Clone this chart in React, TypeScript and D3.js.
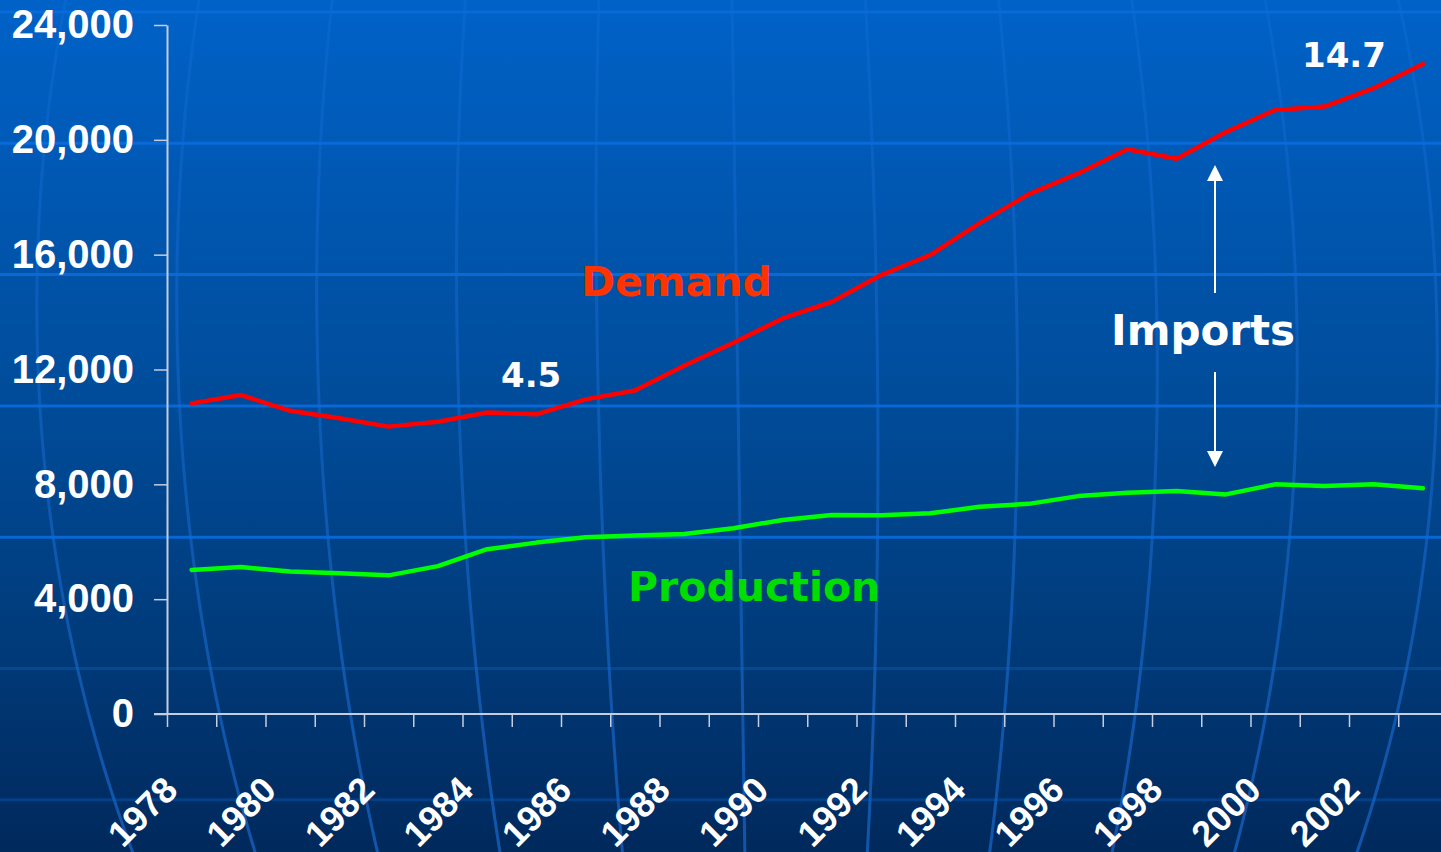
import React, { useEffect, useRef } from "react";
import * as d3 from "d3";

const years = [
	1978, 1979, 1980, 1981, 1982, 1983, 1984, 1985, 1986, 1987, 1988, 1989, 1990,
	1991, 1992, 1993, 1994, 1995, 1996, 1997, 1998, 1999, 2000, 2001, 2002, 2003,
];
const demand = [
	10820, 11110, 10560, 10300, 10010, 10180, 10500, 10440, 10960, 11270, 12130,
	12930, 13780, 14360, 15290, 15990, 17100, 18110, 18830, 19670, 19340, 20270,
	21040, 21160, 21800, 22640,
];
const production = [
	5020, 5120, 4960, 4900, 4830, 5150, 5740, 5970, 6160, 6220, 6270, 6470, 6760,
	6930, 6920, 6990, 7220, 7320, 7590, 7710, 7770, 7650, 8000, 7940, 8000, 7860,
];
const yTicks = [0, 4000, 8000, 12000, 16000, 20000, 24000];
const yearLabels = [
	1978, 1980, 1982, 1984, 1986, 1988, 1990, 1992, 1994, 1996, 1998, 2000, 2002,
];

const W = 1441;
const H = 852;
const AXIS = "#c5cde0";
const LABEL_FONT = "'Liberation Sans', Arial, sans-serif";
const NOTE_FONT = "'DejaVu Sans', Verdana, sans-serif";

export default function App() {
	const svgRef = useRef<SVGSVGElement | null>(null);

	useEffect(() => {
		const svg = d3.select(svgRef.current);
		svg.selectAll("*").remove();
		const defs = svg.append("defs");

		// background gradient
		const grad = defs
			.append("linearGradient")
			.attr("id", "bg")
			.attr("x1", 0)
			.attr("y1", 0)
			.attr("x2", 0)
			.attr("y2", 1);
		[
			[0, "#0062c8"],
			[0.45, "#004d9c"],
			[0.72, "#003d7e"],
			[1, "#00295c"],
		].forEach(([o, c]) =>
			grad.append("stop").attr("offset", o).attr("stop-color", c as string)
		);
		svg.append("rect").attr("width", W).attr("height", H).attr("fill", "url(#bg)");

		// meridian stroke fades toward the top
		const mgrad = defs
			.append("linearGradient")
			.attr("id", "mer")
			.attr("gradientUnits", "userSpaceOnUse")
			.attr("x1", 0)
			.attr("y1", 0)
			.attr("x2", 0)
			.attr("y2", H);
		[
			[0, 0.25],
			[0.5, 0.4],
			[1, 0.6],
		].forEach(([o, a]) =>
			mgrad
				.append("stop")
				.attr("offset", o)
				.attr("stop-color", "rgb(30,115,225)")
				.attr("stop-opacity", a)
		);

		// globe meridians (decoration)
		const cx = 737,
			cy = 330,
			R = 1077,
			tilt = 0.015;
		const ys = d3.range(-20, H + 21, 8);
		d3.range(-5, 6).forEach((k) => {
			const pts: [number, number][] = ys.map((yy) => {
				const t = (yy - cy) / R;
				return [cx + tilt * (yy - cy) + 140 * k * Math.sqrt(Math.max(0, 1 - t * t)), yy];
			});
			svg
				.append("path")
				.attr("d", d3.line().curve(d3.curveBasis)(pts))
				.attr("fill", "none")
				.attr("stroke", "url(#mer)")
				.attr("stroke-width", 3);
		});

		// latitude lines (decoration)
		d3.range(0, 7).forEach((k) => {
			const yy = 12 + 131.3 * k;
			svg
				.append("line")
				.attr("x1", 0)
				.attr("x2", W)
				.attr("y1", yy)
				.attr("y2", yy)
				.attr("stroke", "#0a6cdc")
				.attr("stroke-opacity", k <= 4 ? 0.9 : 0.3)
				.attr("stroke-width", 3);
		});

		const x = d3.scaleLinear().domain([1977.5, 2003.5]).range([167, 1447.5]);
		const y = d3.scaleLinear().domain([0, 24000]).range([714, 25]);

		// x axis
		const xAxis: any = d3
			.axisBottom(x)
			.tickValues(years.map((v) => v - 0.5).concat([2003.5]))
			.tickSize(13)
			.tickSizeOuter(0)
			.tickFormat(() => "");
		const gx = svg.append("g").attr("transform", "translate(0,714)").call(xAxis);
		gx.select(".domain").remove();
		gx.selectAll("line").attr("stroke", AXIS).attr("stroke-width", 1.5);
		svg
			.append("line")
			.attr("x1", 154)
			.attr("x2", W)
			.attr("y1", 714)
			.attr("y2", 714)
			.attr("stroke", AXIS)
			.attr("stroke-width", 2);

		svg
			.append("g")
			.selectAll("text")
			.data(yearLabels)
			.join("text")
			.attr("transform", (d) => `translate(${x(d) - 12},792) rotate(-45)`)
			.attr("text-anchor", "end")
			.attr("fill", "white")
			.attr("font-family", LABEL_FONT)
			.attr("font-weight", "bold")
			.attr("font-size", 36)
			.text((d) => d);

		// y axis
		const yAxis: any = d3
			.axisLeft(y)
			.tickValues(yTicks)
			.tickSize(13)
			.tickSizeOuter(0)
			.tickPadding(20)
			.tickFormat(d3.format(","));
		const gy = svg.append("g").attr("transform", "translate(167,0)").call(yAxis);
		gy.select(".domain").attr("stroke", AXIS).attr("stroke-width", 2);
		gy.selectAll("line").attr("stroke", AXIS).attr("stroke-width", 1.5);
		gy.selectAll("text")
			.attr("fill", "white")
			.attr("font-family", LABEL_FONT)
			.attr("font-weight", "bold")
			.attr("font-size", 40);

		// series
		const line = d3
			.line<number>()
			.x((d, i) => x(years[i]))
			.y((d) => y(d));
		[
			[demand, "#ff0000"],
			[production, "#00ff00"],
		].forEach(([data, color]) => {
			svg
				.append("path")
				.datum(data as number[])
				.attr("d", line)
				.attr("fill", "none")
				.attr("stroke", color as string)
				.attr("stroke-width", 4.5)
				.attr("stroke-linejoin", "round")
				.attr("stroke-linecap", "round");
		});

		// annotations
		const note = (tx: number, ty: number, txt: string, size: number, fill: string) =>
			svg
				.append("text")
				.attr("x", tx)
				.attr("y", ty)
				.attr("fill", fill)
				.attr("font-family", NOTE_FONT)
				.attr("font-weight", "bold")
				.attr("font-size", size)
				.text(txt);
		note(581, 296, "Demand", 41, "#ff3300");
		note(628, 601, "Production", 41, "#00dd00");
		note(501, 387, "4.5", 34, "white");
		note(1302, 67, "14.7", 34, "white");
		note(1111, 345, "Imports", 42, "white");

		// import arrows
		const ax = 1215;
		svg.append("line").attr("x1", ax).attr("x2", ax).attr("y1", 293).attr("y2", 178)
			.attr("stroke", "white").attr("stroke-width", 2);
		svg.append("path").attr("d", `M${ax},165L${ax - 8},181L${ax + 8},181Z`).attr("fill", "white");
		svg.append("line").attr("x1", ax).attr("x2", ax).attr("y1", 372).attr("y2", 454)
			.attr("stroke", "white").attr("stroke-width", 2);
		svg.append("path").attr("d", `M${ax},467L${ax - 8},451L${ax + 8},451Z`).attr("fill", "white");
	}, []);

	return (
		<svg
			ref={svgRef}
			width={W}
			height={H}
			style={{ position: "absolute", left: 0, top: 0, display: "block" }}
		/>
	);
}
